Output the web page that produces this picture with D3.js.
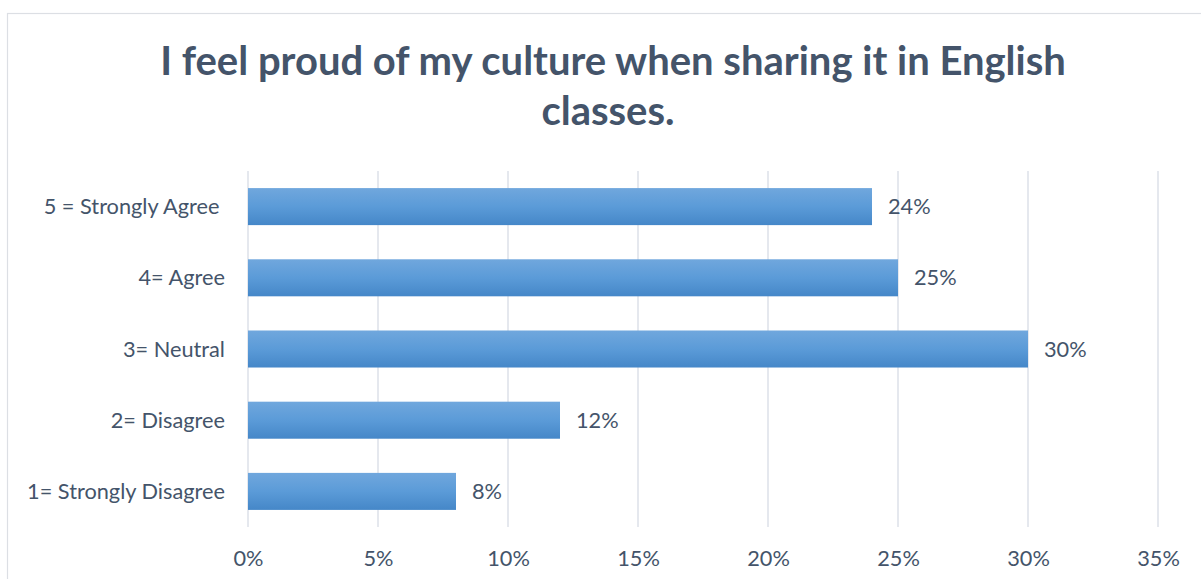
<!DOCTYPE html>
<html><head><meta charset="utf-8">
<script src="https://cdn.jsdelivr.net/npm/d3@7"></script>
<style>html,body{margin:0;padding:0;background:#fff;}svg{display:block;}</style>
</head><body>
<svg id="chart" width="1201" height="579"></svg>
<script>
const categories = ["5 = Strongly Agree ", "4= Agree", "3= Neutral", "2= Disagree", "1= Strongly Disagree"];
const values = [0.24, 0.25, 0.30, 0.12, 0.08];
const tickValues = [0, 0.05, 0.10, 0.15, 0.20, 0.25, 0.30, 0.35];
const titleLines = ["I feel proud of my culture when sharing it in English", "classes."];

const svg = d3.select("#chart");
const FONT = "Lato, 'Open Sans', sans-serif";
const textColor = "#44546a";

// chart border
svg.append("rect").attr("x", 7.5).attr("y", 13.5).attr("width", 1220).attr("height", 600)
  .attr("fill", "none").attr("stroke", "#dcdfe4").attr("stroke-width", 1.2);

const defs = svg.append("defs");
const grad = defs.append("linearGradient").attr("id", "barGrad").attr("x1", 0).attr("y1", 0).attr("x2", 0).attr("y2", 1);
grad.append("stop").attr("offset", "0%").attr("stop-color", "#70a7dd");
grad.append("stop").attr("offset", "50%").attr("stop-color", "#5b9bd8");
grad.append("stop").attr("offset", "100%").attr("stop-color", "#4587c8");

const x = d3.scaleLinear().domain([0, 0.35]).range([248, 1158]);
const y = d3.scaleBand().domain(categories).range([171, 527]).paddingInner(0.48).paddingOuter(0.24);

// gridlines
svg.append("g").selectAll("line").data(tickValues).join("line")
  .attr("x1", d => x(d)).attr("x2", d => x(d)).attr("y1", 171).attr("y2", 527)
  .attr("stroke", "#dde1e8").attr("stroke-width", 1.5);

// bars
svg.append("g").selectAll("rect").data(values).join("rect")
  .attr("x", x(0)).attr("y", (d, i) => y(categories[i]))
  .attr("width", d => x(d) - x(0)).attr("height", y.bandwidth())
  .attr("fill", "url(#barGrad)");

// value labels
const vals = svg.append("g").selectAll("text").data(values).join("text")
  .attr("x", d => x(d) + 16).attr("y", (d, i) => y(categories[i]) + y.bandwidth() / 2)
  .attr("dy", "0.35em").attr("font-family", FONT).attr("font-size", 19).attr("fill", textColor)
  .text(d => d3.format(".0%")(d));

// category axis labels
const cats = svg.append("g").selectAll("text").data(categories).join("text")
  .attr("x", 225).attr("y", d => y(d) + y.bandwidth() / 2).attr("dy", "0.35em")
  .attr("text-anchor", "end").attr("font-family", FONT).attr("font-size", 19).attr("fill", textColor)
  .attr("xml:space", "preserve").style("white-space", "pre")
  .text(d => d);

// x axis tick labels
const xAxis = d3.axisBottom(x).tickValues(tickValues).tickFormat(d3.format(".0%")).tickSize(0).tickPadding(0);
const ax = svg.append("g").attr("transform", "translate(0,566)").call(xAxis);
ax.select(".domain").remove();
ax.selectAll("text").attr("dy", 0).attr("font-family", FONT).attr("font-size", 19).attr("fill", textColor);

// fit small-text size to reference ("1= Strongly Disagree" ~198px wide)
const longest = cats.filter((d, i) => i === 4).node();
const smallFs = 19 * 198 / longest.getComputedTextLength();
cats.attr("font-size", smallFs);
vals.attr("font-size", smallFs);
ax.selectAll("text").attr("font-size", smallFs);

// title
const title = svg.append("g");
title.append("text").attr("x", 613).attr("y", 75).attr("text-anchor", "middle")
  .attr("font-family", FONT).attr("font-weight", "bold").attr("font-size", 38).attr("fill", textColor)
  .text(titleLines[0]);
title.append("text").attr("x", 608).attr("y", 125).attr("text-anchor", "middle")
  .attr("font-family", FONT).attr("font-weight", "bold").attr("font-size", 38).attr("fill", textColor)
  .text(titleLines[1]);

// fit title width to reference (line 1 ~906px wide)
const t1 = title.select("text").node();
const w = t1.getComputedTextLength();
const fs = 38 * 906 / w;
title.selectAll("text").attr("font-size", fs);
</script>
</body></html>
